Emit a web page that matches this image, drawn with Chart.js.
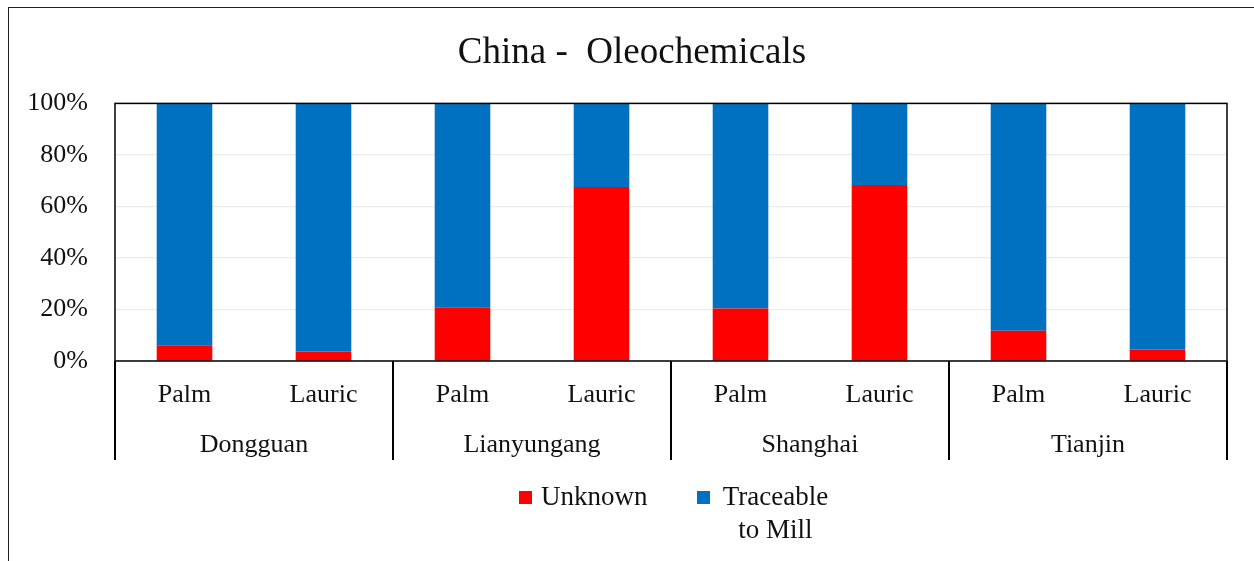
<!DOCTYPE html>
<html>
<head>
<meta charset="utf-8">
<script src="https://cdn.jsdelivr.net/npm/chart.js@4/dist/chart.umd.min.js"></script>
<style>
  html, body { margin: 0; padding: 0; background: #fff; overflow: hidden; }
  #frame { position: absolute; left: 8px; top: 7px; width: 1400px; height: 700px;
           border-left: 1.5px solid #222; border-top: 1.5px solid #222; }
  #wrap { position: absolute; left: 0; top: 0; width: 1254px; height: 561px; }
  #legend { position: absolute; left: 519px; top: 484px; display: flex; align-items: flex-start;
            font-family: "Liberation Serif", "Times New Roman", serif; font-size: 27px; color: #111; }
  .item { display: flex; align-items: flex-start; margin-right: 49px; }
  .box { width: 13px; height: 13px; margin-top: 7px; margin-right: 9px; }
  .txt { max-width: 114px; text-align: center; line-height: 33px; margin-top: -4px; }
</style>
</head>
<body>
<div id="frame"></div>
<div id="wrap"><canvas id="chinaOleo"></canvas></div>
<div id="legend"></div>
<script>
// categories
const cities = ['Dongguan', 'Lianyungang', 'Shanghai', 'Tianjin'];
const oils = ['Palm', 'Lauric'];
const tickLabels = [0, 20, 40, 60, 80, 100];

// series values (percent)
const unknown   = [6.1, 3.7, 20.9, 67.5, 20.4, 68.3, 11.7, 4.5];
const traceable = [93.9, 96.3, 79.1, 32.5, 79.6, 31.7, 88.3, 95.5];

const subLabels = [];
cities.forEach(() => oils.forEach(o => subLabels.push(o)));

Chart.defaults.font.family = '"Liberation Serif", "Times New Roman", serif';
Chart.defaults.font.size = 26;
Chart.defaults.color = '#111';

// plot box + group separators under the axis
const framePlugin = {
  id: 'framePlugin',
  afterLayout(chart) {
    // title is centred on the whole frame, not on the padded box
    const t = chart.titleBlock;
    if (t) { t.left = 10; t.right = 1254; t.width = t.right - t.left; }
  },
  afterDraw(chart) {
    const ctx = chart.ctx;
    const a = chart.chartArea;
    const x = chart.scales.x;
    const x2 = chart.scales.x2;
    ctx.save();
    ctx.strokeStyle = '#000';
    ctx.lineWidth = 1.5;
    ctx.strokeRect(a.left, a.top, a.right - a.left, a.bottom - a.top);
    ctx.lineWidth = 2;
    for (let i = 0; i <= cities.length; i++) {
      const px = Math.round(x.getPixelForValue(i * oils.length - 0.5));
      ctx.beginPath();
      ctx.moveTo(px, a.bottom);
      ctx.lineTo(px, x2.bottom);
      ctx.stroke();
    }
    ctx.restore();
  }
};

const config = {
  type: 'bar',
  data: {
    labels: subLabels,
    datasets: [
      { label: 'Unknown', data: unknown, backgroundColor: '#ff0000',
        barPercentage: 0.4, categoryPercentage: 1 },
      { label: 'Traceable to Mill', data: traceable, backgroundColor: '#0070c0',
        barPercentage: 0.4, categoryPercentage: 1 },
    ],
  },
  options: {
    responsive: true,
    maintainAspectRatio: false,
    animation: false,
    layout: { padding: { left: 10, right: 27, top: 6, bottom: 101 } },
    plugins: {
      legend: { display: false },
      tooltip: { enabled: false },
      title: {
        display: true,
        text: 'China -  Oleochemicals',
        font: { size: 37, weight: 'normal' },
        color: '#111',
        padding: { top: 25, bottom: 28 },
      },
    },
    scales: {
      x: {
        stacked: true,
        afterFit(scale) { scale.height = 48; },
        grid: { display: false, drawTicks: false },
        border: { display: false },
        ticks: { padding: 19, maxRotation: 0 },
      },
      x2: {
        type: 'category',
        labels: cities,
        position: 'bottom',
        offset: true,
        afterFit(scale) { scale.height = 51; },
        grid: { display: false, drawTicks: false },
        border: { display: false },
        ticks: { padding: 21, maxRotation: 0 },
      },
      y: {
        stacked: true,
        min: 0,
        max: 100,
        afterFit(scale) { scale.width = 105; },
        afterBuildTicks(scale) { scale.ticks = tickLabels.map(v => ({ value: v })); },
        grid: { color: '#ececec', lineWidth: 1.2, drawTicks: false },
        border: { display: false },
        ticks: { padding: 27, callback: v => v + '%' },
      },
    },
  },
  plugins: [framePlugin],
};

const ctxChina = document.getElementById('chinaOleo');
window.chinaChart = new Chart(ctxChina, config);

// custom legend so the long label can wrap like the original
const legendEl = document.getElementById('legend');
window.chinaChart.data.datasets.forEach(ds => {
  const item = document.createElement('div');
  item.className = 'item';
  item.innerHTML = '<div class="box" style="background:' + ds.backgroundColor + '"></div>' +
                   '<div class="txt">' + ds.label + '</div>';
  legendEl.appendChild(item);
});
</script>
</body>
</html>
